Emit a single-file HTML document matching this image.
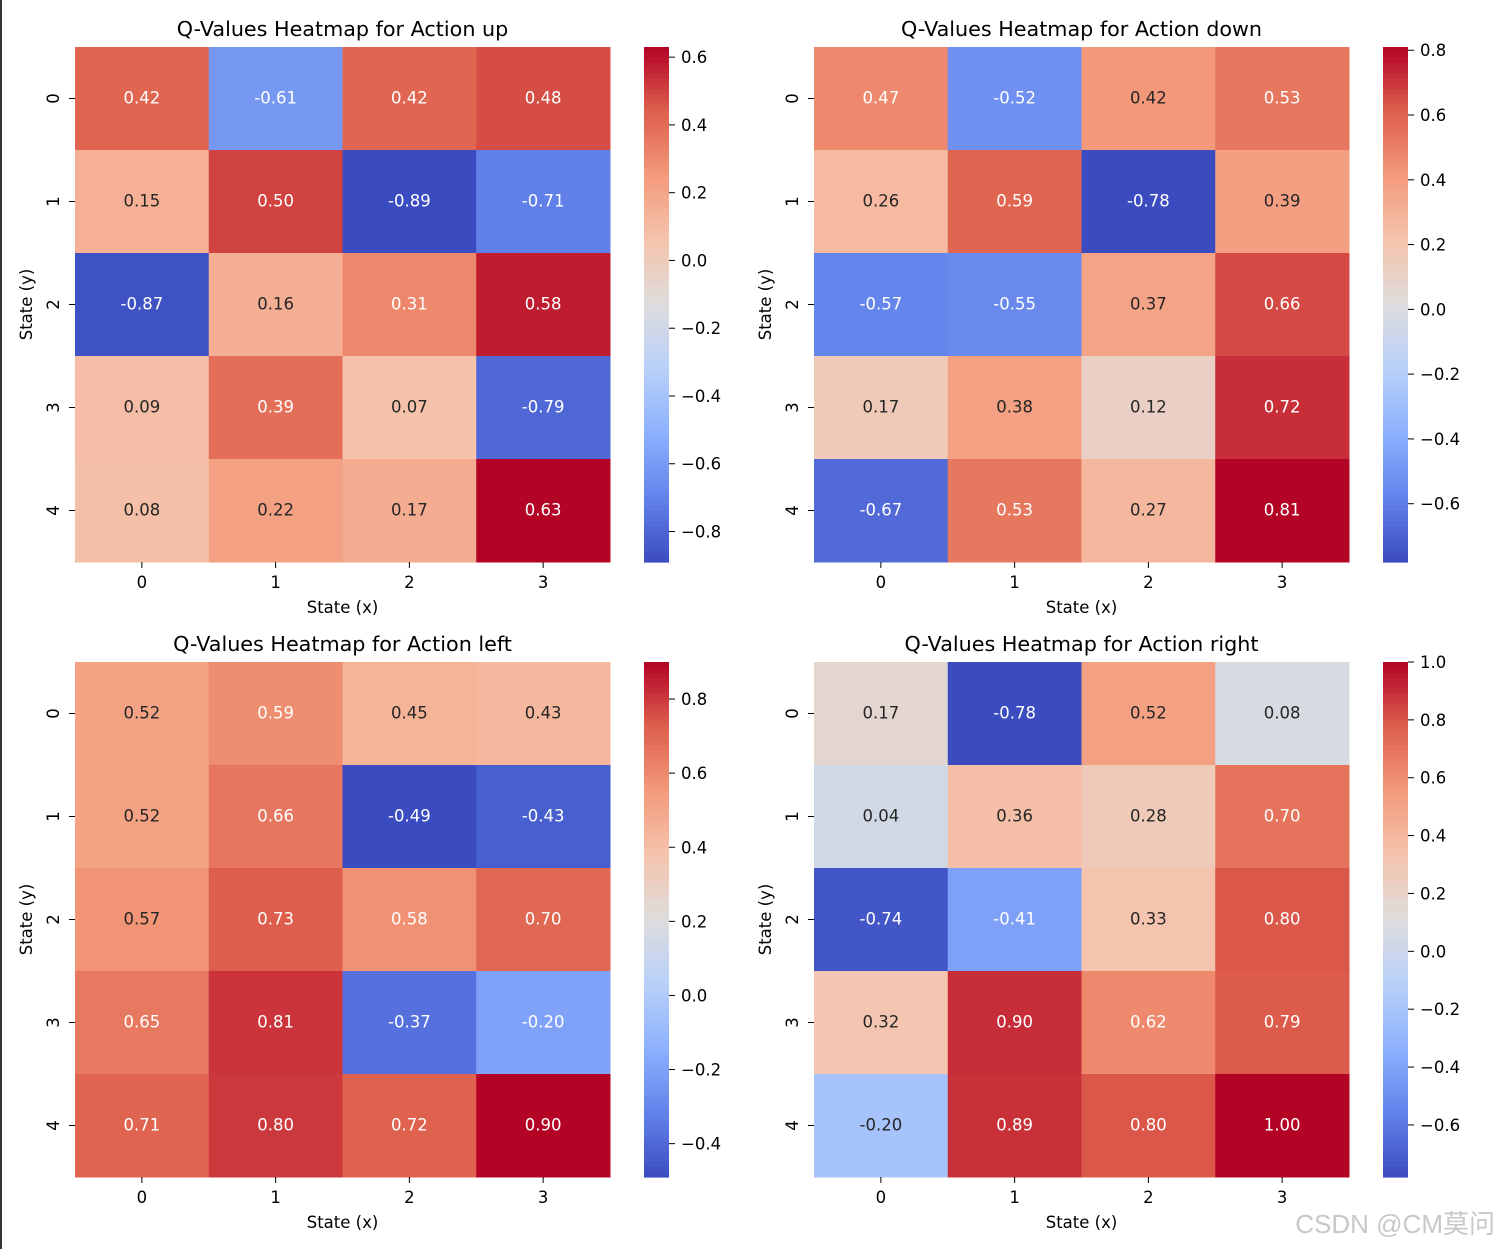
<!DOCTYPE html>
<html><head><meta charset="utf-8">
<style>
body{margin:0;background:#fff;}
svg{display:block;font-family:"DejaVu Sans","Liberation Sans",sans-serif;}
</style></head>
<body>
<svg id="chart" width="1501" height="1249" viewBox="0 0 1501 1249" xmlns="http://www.w3.org/2000/svg">
<rect x="0" y="0" width="1501" height="1249" fill="#fff"/>
<rect x="0" y="0" width="2" height="1249" fill="#333"/>
<text x="1495" y="1233" text-anchor="end" font-size="26" fill="#c8c8c8" font-family="'Liberation Sans','Noto Sans CJK SC',sans-serif">CSDN @CM莫问</text>
</svg>
<script>
const actions = ["up","down","left","right"];
const qUp = [[0.42,-0.61,0.42,0.48],[0.15,0.50,-0.89,-0.71],[-0.87,0.16,0.31,0.58],[0.09,0.39,0.07,-0.79],[0.08,0.22,0.17,0.63]];
const qDown = [[0.47,-0.52,0.42,0.53],[0.26,0.59,-0.78,0.39],[-0.57,-0.55,0.37,0.66],[0.17,0.38,0.12,0.72],[-0.67,0.53,0.27,0.81]];
const qLeft = [[0.52,0.59,0.45,0.43],[0.52,0.66,-0.49,-0.43],[0.57,0.73,0.58,0.70],[0.65,0.81,-0.37,-0.20],[0.71,0.80,0.72,0.90]];
const qRight = [[0.17,-0.78,0.52,0.08],[0.04,0.36,0.28,0.70],[-0.74,-0.41,0.33,0.80],[0.32,0.90,0.62,0.79],[-0.20,0.89,0.80,1.00]];
const xLabels = ["0","1","2","3"];
const yLabels = ["0","1","2","3","4"];
const cbTicksUp = [0.6,0.4,0.2,0.0,-0.2,-0.4,-0.6,-0.8];
const cbTicksDown = [0.8,0.6,0.4,0.2,0.0,-0.2,-0.4,-0.6];
const cbTicksLeft = [0.8,0.6,0.4,0.2,0.0,-0.2,-0.4];
const cbTicksRight = [1.0,0.8,0.6,0.4,0.2,0.0,-0.2,-0.4,-0.6];

const NS="http://www.w3.org/2000/svg";
const svg=document.getElementById('chart');
const stops=[[59,76,192],[98,130,234],[141,176,254],[184,208,249],[221,221,221],[245,196,173],[244,154,123],[222,96,77],[180,4,38]];
function cmap(t){t=Math.max(0,Math.min(1,t));const p=t*8,i=Math.min(7,Math.floor(p)),f=p-i;
 return stops[i].map((c,k)=>Math.round(c+(stops[i+1][k]-c)*f));}
function lum(c){const l=c.map(v=>{v/=255;return v<=0.03928?v/12.92:Math.pow((v+0.055)/1.055,2.4)});return 0.2126*l[0]+0.7152*l[1]+0.0722*l[2];}
function el(tag,attrs,parent,text){const e=document.createElementNS(NS,tag);for(const k in attrs)e.setAttribute(k,attrs[k]);if(text!==undefined)e.textContent=text;(parent||svg).appendChild(e);return e;}
const minus=s=>s.replace('-','\u2212');

const panels=[
 {data:qUp,ticks:cbTicksUp,x:75,y:47,cbx:644},
 {data:qDown,ticks:cbTicksDown,x:814,y:47,cbx:1383},
 {data:qLeft,ticks:cbTicksLeft,x:75,y:662,cbx:644},
 {data:qRight,ticks:cbTicksRight,x:814,y:662,cbx:1383}];
const W=535,H=515;
panels.forEach((p,pi)=>{
 const g=el('g',{});
 
 
 const flat=p.data.flat();const vmin=Math.min(...flat),vmax=Math.max(...flat);
 const nr=p.data.length,nc=p.data[0].length,cw=W/nc,ch=H/nr;
 const xs=j=>p.x+j*cw, ys=i=>p.y+i*ch;
 p.data.forEach((row,i)=>row.forEach((v,j)=>{
  const c=cmap((v-vmin)/(vmax-vmin));
  const r=el('rect',{x:xs(j),y:ys(i),width:cw+0.5,height:ch+0.5,fill:`rgb(${c})`},g);
  
  
  const t=el('text',{x:xs(j)+cw/2,y:ys(i)+ch/2+5,'text-anchor':'middle','font-size':16.5,fill:lum(c)>0.408?'#262626':'#fff'},g,v.toFixed(2));
  
  
 }));
 xLabels.forEach((l,j)=>{const cx=xs(j)+cw/2;
  el('line',{x1:cx,x2:cx,y1:p.y+H,y2:p.y+H+6,stroke:'#000'},g);
  const t=el('text',{x:cx,y:p.y+H+26,'text-anchor':'middle','font-size':16.5},g,l);
  
  });
 yLabels.forEach((l,i)=>{const cy=ys(i)+ch/2;
  el('line',{x1:p.x-6,x2:p.x,y1:cy,y2:cy,stroke:'#000'},g);
  const t=el('text',{x:p.x-16,y:cy,'text-anchor':'middle','font-size':16.5,transform:`rotate(-90 ${p.x-16} ${cy})`},g,l);
  
  });
 const xt=el('text',{x:p.x+W/2,y:p.y+H+51,'text-anchor':'middle','font-size':16.5},g,'State (x)');
 
 
 const yx=p.x-43,yy=p.y+H/2;
 const yt=el('text',{x:yx,y:yy,'text-anchor':'middle','font-size':16.5,transform:`rotate(-90 ${yx} ${yy})`},g,'State (y)');
 
 
 const tt=el('text',{x:p.x+W/2,y:p.y-11,'text-anchor':'middle','font-size':20.7},g,'Q-Values Heatmap for Action '+actions[pi]);
 
 
 const n=100;
 for(let k=0;k<n;k++){const c=cmap((k+0.5)/n);
  el('rect',{x:p.cbx,y:p.y+H-(k+1)*H/n,width:25,height:H/n+0.6,fill:`rgb(${c})`},g);}
 const cy=v=>p.y+H-(v-vmin)/(vmax-vmin)*H;
 p.ticks.forEach(v=>{const y=cy(v);
  el('line',{x1:p.cbx+25,x2:p.cbx+31,y1:y,y2:y,stroke:'#000'},g);
  const t=el('text',{x:p.cbx+37,y:y+6,'font-size':16.5},g,minus(v.toFixed(1)));
  
  });
});
</script>
</body></html>
